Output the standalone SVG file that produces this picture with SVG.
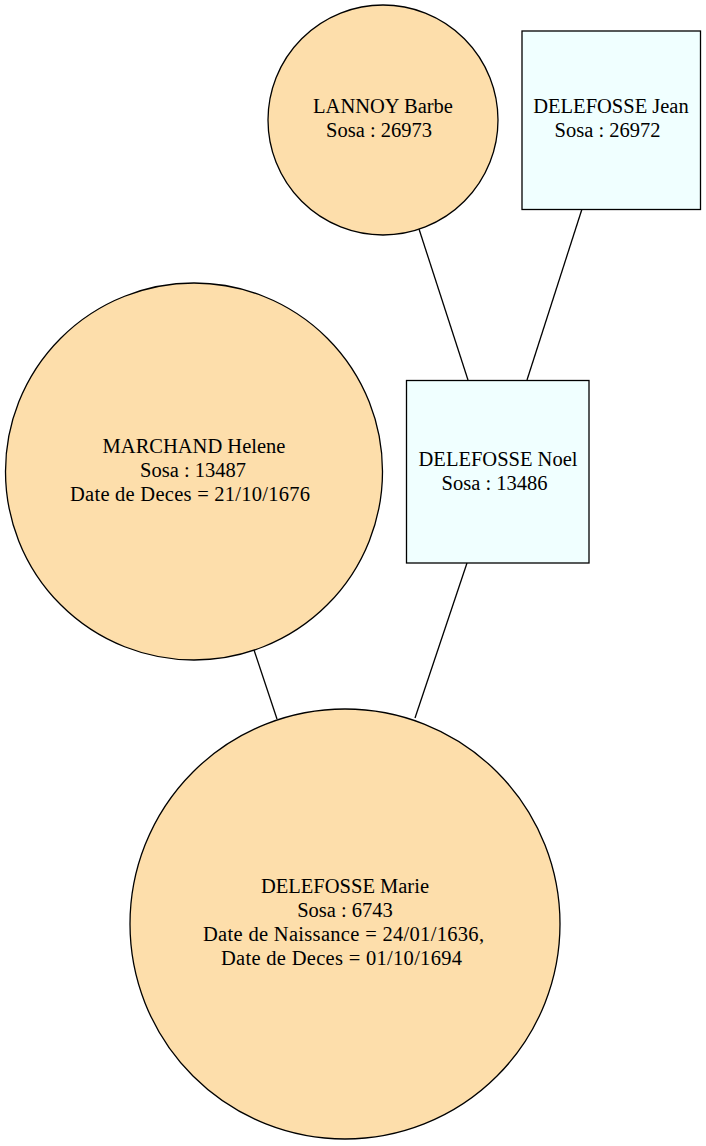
<svg xmlns="http://www.w3.org/2000/svg" width="706" height="1146" viewBox="0 0 706 1146">
<style>
.f{fill:#fddeab;stroke:#000;stroke-width:1.3}
.m{fill:#f0ffff;stroke:#000;stroke-width:1.3}
.e{stroke:#000;stroke-width:1.3;fill:none}
text{font-family:"Liberation Serif","Times New Roman",serif;font-size:20.5px;text-anchor:middle;fill:#000}
</style>
<rect width="706" height="1146" fill="#fff"/>
<g id="connectors">
<line class="e" x1="419" y1="229" x2="468" y2="380"/>
<line class="e" x1="582" y1="209" x2="527" y2="380"/>
<line class="e" x1="254" y1="650" x2="277" y2="719"/>
<line class="e" x1="467" y1="563" x2="415" y2="718"/>
</g>
<g id="lannoy_barbe">
<circle class="f" cx="383" cy="120" r="115"/>
<text x="383" y="113">LANNOY Barbe</text>
<text x="379" y="137">Sosa : 26973</text>
</g>
<g id="delefosse_jean">
<rect class="m" x="522" y="31" width="178.5" height="178.5"/>
<text x="611" y="113">DELEFOSSE Jean</text>
<text x="607.5" y="137">Sosa : 26972</text>
</g>
<g id="marchand_helene">
<circle class="f" cx="194" cy="471.5" r="188.5"/>
<text x="194" y="453">MARCHAND Helene</text>
<text x="193" y="477">Sosa : 13487</text>
<text x="190" y="501" textLength="240" lengthAdjust="spacing">Date de Deces = 21/10/1676</text>
</g>
<g id="delefosse_noel">
<rect class="m" x="406.5" y="380.5" width="182.5" height="182.5"/>
<text x="498" y="466">DELEFOSSE Noel</text>
<text x="494.5" y="490">Sosa : 13486</text>
</g>
<g id="delefosse_marie">
<circle class="f" cx="345" cy="924" r="215"/>
<text x="345" y="893">DELEFOSSE Marie</text>
<text x="345" y="917">Sosa : 6743</text>
<text x="343.5" y="941" textLength="281" lengthAdjust="spacing">Date de Naissance = 24/01/1636,</text>
<text x="341.5" y="965" textLength="241" lengthAdjust="spacing">Date de Deces = 01/10/1694</text>
</g>
</svg>
